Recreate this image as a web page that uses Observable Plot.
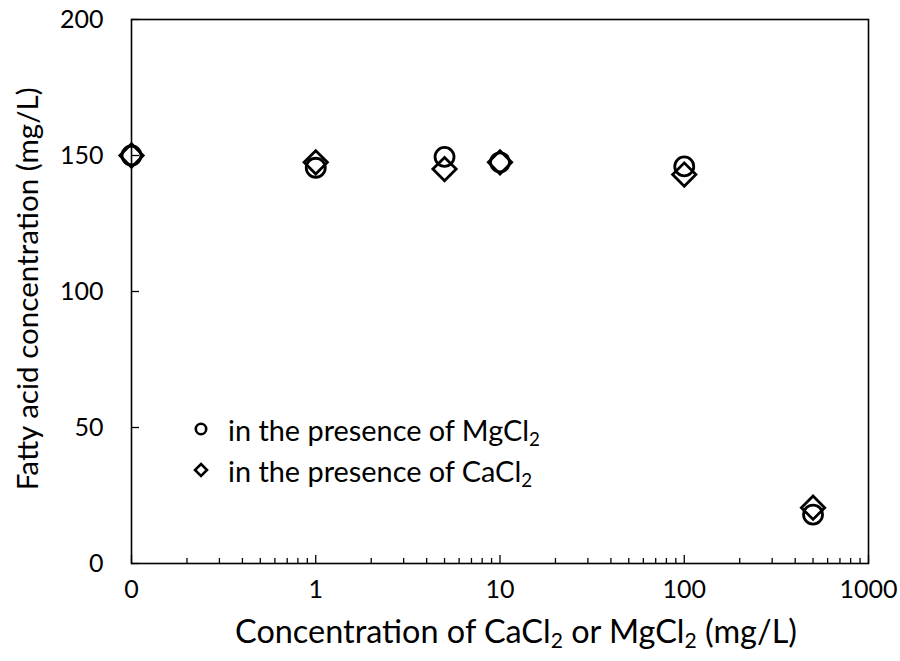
<!DOCTYPE html>
<html>
<head>
<meta charset="utf-8">
<script src="https://cdn.jsdelivr.net/npm/d3@7"></script>
<script src="https://cdn.jsdelivr.net/npm/@observablehq/plot@0.6"></script>
<style>
  html, body { margin: 0; padding: 0; background: #fff; }
  #wrap { position: relative; width: 900px; height: 661px; font-family: Lato, "Open Sans", sans-serif; color: #000; }
  #wrap svg { position: absolute; left: 0; top: 0; }
  .lab { position: absolute; font-size: 26px; white-space: nowrap; line-height: 1; }
  .lab sub { font-size: 0.65em; vertical-align: -0.25em; line-height: 0; }
</style>
</head>
<body>
<div id="wrap"></div>
<script>
// Data (x = 0 is plotted at the 0.1 position of the log axis)
const concentrations = [0.1, 1, 5, 10, 100, 500];
const mgcl2Values = [150, 145.5, 149.5, 147.5, 146, 18];
const cacl2Values = [150, 147.5, 145, 147.5, 143, 20.5];

const xMajorTicks = [0.1, 1, 10, 100, 1000];
const xTickLabels = ["0", "1", "10", "100", "1000"];
const xMinorTicks = [2,3,4,5,6,7,8,9].flatMap(m => [0.1, 1, 10, 100].map(d => m * d));
const yTicks = [0, 50, 100, 150, 200];

const mgData = concentrations.map((c, i) => ({c, v: mgcl2Values[i]}));
const caData = concentrations.map((c, i) => ({c, v: cacl2Values[i]}));

const W = 900, H = 661;
const mL = 131, mR = 32, mT = 19, mB = 98;
const pw = W - mL - mR, ph = H - mT - mB;

const chart = Plot.plot({
  width: W, height: H,
  marginLeft: mL, marginRight: mR, marginTop: mT, marginBottom: mB,
  style: { fontFamily: "Lato, 'Open Sans', sans-serif", fontSize: "25px", color: "#000", background: "#fff", overflow: "visible" },
  x: { type: "log", domain: [0.1, 1000] },
  y: { domain: [0, 200] },
  marks: [
    Plot.frame({ stroke: "#000", strokeWidth: 1.6 }),
    Plot.tickX(xMinorTicks, { x: d => d, stroke: "#000", strokeWidth: 1.3, insetTop: ph - 5 }),
    Plot.tickX(xMajorTicks, { x: d => d, stroke: "#000", strokeWidth: 1.3, insetTop: ph - 8 }),
    Plot.tickY(yTicks, { y: d => d, stroke: "#000", strokeWidth: 1.3, insetRight: pw - 8 }),
    Plot.axisX({ ticks: xMajorTicks, tickFormat: d => xTickLabels[xMajorTicks.indexOf(d)], tickSize: 0, tickPadding: 17, label: null, fontSize: 25 }),
    Plot.axisY({ ticks: yTicks, tickSize: 0, tickPadding: 28, label: null, fontSize: 25 }),
    Plot.dot(mgData, { x: "c", y: "v", symbol: "circle", r: 9.5, stroke: "#000", strokeWidth: 2.8, fill: "none" }),
    Plot.dot(caData, { x: "c", y: "v", symbol: "diamond2", r: 10.5, stroke: "#000", strokeWidth: 2.8, fill: "none" })
  ]
});

const wrap = document.getElementById("wrap");
wrap.appendChild(chart);

// fit a label's font size to the width it has in the reference
function fit(el, target) {
  const w = el.getBoundingClientRect().width;
  el.style.fontSize = (26 * target / w).toFixed(2) + "px";
}

// Axis titles (HTML to allow subscripts)
const xl = document.createElement("div");
xl.className = "lab";
xl.innerHTML = "Concentration of CaCl<sub>2</sub> or MgCl<sub>2</sub> (mg/L)";
wrap.appendChild(xl);
fit(xl, 562);
const xr = xl.getBoundingClientRect();
xl.style.left = (516 - xr.width / 2) + "px";
xl.style.top = (631 - xr.height / 2) + "px";

const yl = document.createElement("div");
yl.className = "lab";
yl.textContent = "Fatty acid concentration (mg/L)";
wrap.appendChild(yl);
fit(yl, 403);
const yr = yl.getBoundingClientRect();
yl.style.left = (26 - yr.width / 2) + "px";
yl.style.top = (289 - yr.height / 2) + "px";
yl.style.transform = "rotate(-90deg)";

// Legend
const legend = [
  { sym: "circle", text: "in the presence of MgCl<sub>2</sub>", y: 429, w: 312 },
  { sym: "diamond", text: "in the presence of CaCl<sub>2</sub>", y: 470, w: 298 }
];
let legendSize = null;
for (const item of legend) {
  const s = document.createElementNS("http://www.w3.org/2000/svg", "svg");
  s.setAttribute("width", 20); s.setAttribute("height", 20);
  s.style.position = "absolute"; s.style.left = "191px"; s.style.top = (item.y - 10) + "px";
  s.innerHTML = item.sym === "circle"
    ? '<circle cx="10" cy="10" r="5.2" fill="none" stroke="#000" stroke-width="2.6"/>'
    : '<path d="M10,4L16,10L10,16L4,10Z" fill="none" stroke="#000" stroke-width="2.6" stroke-linejoin="miter"/>';
  wrap.appendChild(s);
  const t = document.createElement("div");
  t.className = "lab";
  t.innerHTML = item.text;
  t.style.left = "228px";
  wrap.appendChild(t);
  if (legendSize === null) { fit(t, item.w); legendSize = t.style.fontSize; }
  else t.style.fontSize = legendSize;
  const th = t.getBoundingClientRect().height;
  t.style.top = (item.y - th / 2 + 1) + "px";
}
</script>
</body>
</html>
